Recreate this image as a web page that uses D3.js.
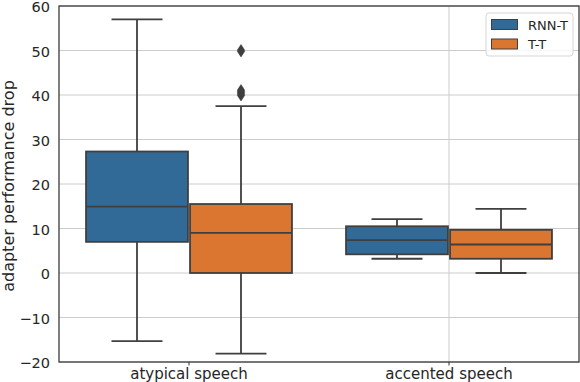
<!DOCTYPE html>
<meta charset="utf-8">
<style>
    body { margin: 0; background: #fff; }
    svg text { font-family: "DejaVu Sans", sans-serif; fill: #262626; }
    .grid line { stroke: #cccccc; stroke-width: 1; }
    .frame { fill: none; stroke: #333; stroke-width: 1.25; }
</style>

<body>
    <div class="chart"></div>
</body>
<script src="https://cdn.jsdelivr.net/npm/d3@7"></script>
<script>
    var width = 580, height = 382,
        margin = { top: 6, right: 1, bottom: 20, left: 59 };

    var groups = ['atypical speech', 'accented speech'],
        models = ['RNN-T', 'T-T'],
        colors = ['#326a97', '#da7630'],
        yTicks = [-20, -10, 0, 10, 20, 30, 40, 50, 60];

    // whisker low, q1, median, q3, whisker high (per group, per model)
    var rnntStats = [[-15.3, 7.0, 14.9, 27.3, 57.0], [3.2, 4.2, 7.4, 10.5, 12.1]];
    var ttStats = [[-18.1, 0.0, 9.0, 15.5, 37.5], [0.0, 3.2, 6.4, 9.7, 14.4]];
    var rnntOutliers = [[], []];
    var ttOutliers = [[39.9, 40.2, 40.5, 40.8, 41.1, 49.8, 50.1], []];

    var boxes = [];
    groups.forEach(function (g, gi) {
        boxes.push({ group: g, model: 'RNN-T', s: rnntStats[gi], out: rnntOutliers[gi] });
        boxes.push({ group: g, model: 'T-T', s: ttStats[gi], out: ttOutliers[gi] });
    });

    var svg = d3.select('.chart').append('svg')
        .attr('width', width).attr('height', height);

    var x = d3.scaleBand().domain(groups).range([margin.left, width - margin.right]);
    var hue = d3.scaleBand().domain(models).range([0, x.bandwidth() * 0.8]);
    var y = d3.scaleLinear().domain([-20, 60]).range([height - margin.bottom, margin.top]);
    var color = d3.scaleOrdinal().domain(models).range(colors);

    // horizontal grid
    svg.append('g').attr('class', 'grid')
        .selectAll('line').data(yTicks).enter().append('line')
        .attr('x1', margin.left).attr('x2', width - margin.right)
        .attr('y1', function (d) { return y(d); }).attr('y2', function (d) { return y(d); });

    // vertical grid only shows at the second category
    svg.append('g').attr('class', 'grid')
        .append('line')
        .attr('x1', x(groups[1]) + x.bandwidth() / 2).attr('x2', x(groups[1]) + x.bandwidth() / 2)
        .attr('y1', margin.top).attr('y2', height - margin.bottom);

    var lineColor = '#3f3f3f', lw = 1.8;
    var bw = hue.bandwidth() * 0.98;

    var g = svg.selectAll('.box').data(boxes).enter().append('g')
        .attr('transform', function (d) {
            var cx = x(d.group) + x.bandwidth() * 0.1 + hue(d.model) + hue.bandwidth() / 2;
            return 'translate(' + cx + ',0)';
        });

    g.append('line')
        .attr('y1', function (d) { return y(d.s[0]); }).attr('y2', function (d) { return y(d.s[1]); })
        .attr('stroke', lineColor).attr('stroke-width', lw);
    g.append('line')
        .attr('y1', function (d) { return y(d.s[3]); }).attr('y2', function (d) { return y(d.s[4]); })
        .attr('stroke', lineColor).attr('stroke-width', lw);
    [0, 4].forEach(function (k) {
        g.append('line')
            .attr('x1', -bw / 4).attr('x2', bw / 4)
            .attr('y1', function (d) { return y(d.s[k]); }).attr('y2', function (d) { return y(d.s[k]); })
            .attr('stroke', lineColor).attr('stroke-width', lw);
    });
    g.append('rect')
        .attr('x', -bw / 2).attr('width', bw)
        .attr('y', function (d) { return y(d.s[3]); })
        .attr('height', function (d) { return y(d.s[1]) - y(d.s[3]); })
        .attr('fill', function (d) { return color(d.model); })
        .attr('stroke', lineColor).attr('stroke-width', lw);
    g.append('line')
        .attr('x1', -bw / 2).attr('x2', bw / 2)
        .attr('y1', function (d) { return y(d.s[2]); }).attr('y2', function (d) { return y(d.s[2]); })
        .attr('stroke', lineColor).attr('stroke-width', lw);

    // outliers as diamonds
    g.selectAll('.out').data(function (d) { return d.out; }).enter().append('path')
        .attr('d', 'M0,-5.5L3.6,0L0,5.5L-3.6,0Z')
        .attr('transform', function (d) { return 'translate(0,' + y(d) + ')'; })
        .attr('fill', '#3f3f3f').attr('stroke', '#3f3f3f').attr('stroke-width', 0.6);

    // frame
    svg.append('rect').attr('class', 'frame')
        .attr('x', margin.left).attr('y', margin.top)
        .attr('width', width - margin.left - margin.right)
        .attr('height', height - margin.top - margin.bottom);

    // y axis labels
    var yAxis = svg.append('g')
        .attr('transform', 'translate(' + margin.left + ',0)')
        .call(d3.axisLeft(y).tickValues(yTicks).tickSize(0).tickPadding(9)
            .tickFormat(function (d) { return d < 0 ? '\u2212' + Math.abs(d) : d; }));
    yAxis.select('.domain').remove();
    yAxis.selectAll('text').style('font-size', '14.5px').attr('dy', '0.4em').attr('fill', '#262626');

    // x axis
    var xAxis = svg.append('g')
        .attr('transform', 'translate(0,' + (height - margin.bottom) + ')')
        .call(d3.axisBottom(x).tickSize(3.5).tickPadding(3));
    xAxis.select('.domain').remove();
    xAxis.selectAll('line').attr('stroke', '#333');
    xAxis.selectAll('text').style('font-size', '15px').attr('fill', '#262626');

    svg.append('text')
        .attr('transform', 'translate(14,' + (margin.top + 2 + (height - margin.top - margin.bottom) / 2) + ') rotate(-90)')
        .attr('text-anchor', 'middle')
        .style('font-size', '16px')
        .text('adapter performance drop');

    // legend
    var lg = svg.append('g').attr('transform', 'translate(486,13)');
    lg.append('rect').attr('width', 87).attr('height', 43).attr('rx', 3)
        .attr('fill', '#fff').attr('fill-opacity', 0.8).attr('stroke', '#d5d5d5');
    models.forEach(function (m, i) {
        lg.append('rect').attr('x', 5.5).attr('y', 6.5 + i * 19.5)
            .attr('width', 26).attr('height', 10)
            .attr('fill', color(m)).attr('stroke', lineColor).attr('stroke-width', 1);
        lg.append('text').attr('x', 42).attr('y', 12 + i * 19.5).attr('dy', '0.35em')
            .style('font-size', '13px').text(m);
    });
</script>
